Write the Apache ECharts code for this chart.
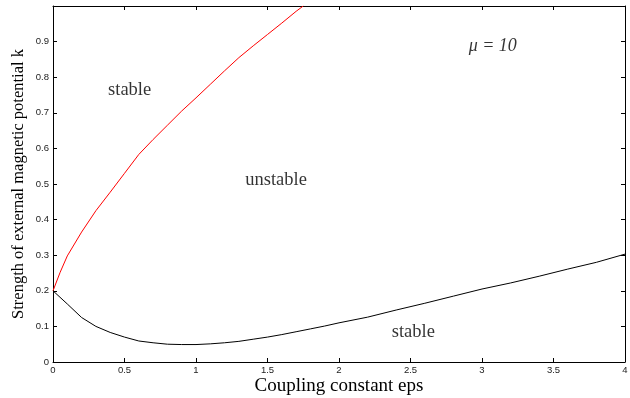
<!DOCTYPE html>
<html><head><meta charset="utf-8">
<script src="https://cdn.jsdelivr.net/npm/echarts@6/dist/echarts.min.js"></script>
<style>html,body{margin:0;padding:0;background:#fff}#c{width:630px;height:398px}</style>
</head><body><div id="c"></div>
<script>
var redEps = [0,0.05,0.1,0.2,0.3,0.4,0.5,0.6,0.7,0.8,0.9,1.0,1.1,1.2,1.3,1.4,1.5,1.6,1.7,1.75];
var redK   = [0.2,0.252,0.298,0.365,0.425,0.477,0.53,0.583,0.625,0.665,0.705,0.742,0.78,0.818,0.855,0.888,0.92,0.952,0.985,1.0];
var blackEps = [0,0.1,0.2,0.3,0.4,0.5,0.6,0.7,0.8,0.9,1.0,1.1,1.2,1.3,1.4,1.5,1.6,1.7,1.8,1.9,2.0,2.2,2.4,2.6,2.8,3.0,3.2,3.4,3.6,3.8,4.0];
var blackK   = [0.2,0.163,0.125,0.1,0.083,0.07,0.059,0.054,0.05,0.049,0.049,0.051,0.054,0.058,0.064,0.07,0.077,0.085,0.093,0.101,0.11,0.126,0.146,0.165,0.185,0.205,0.222,0.241,0.261,0.28,0.303];
var annotations = [
  {text:'stable', x:0.536, y:0.765},
  {text:'unstable', x:1.56, y:0.512},
  {text:'stable', x:2.52, y:0.085}
];
var muLabel = 'μ = 10';

function pairs(a,b){return a.map(function(v,i){return [v,b[i]];});}
var chart = echarts.init(document.getElementById('c'));
var tickLab = {fontFamily:'Liberation Sans, Arial, sans-serif', fontSize:9.5, color:'#222'};
var serif = 'Liberation Serif, Times New Roman, serif';
var line = {show:true,onZero:false,lineStyle:{color:'#000',width:1}};
var tick = {inside:true,length:4,lineStyle:{color:'#000'}};
chart.setOption({
  animation:false,
  grid:{left:53,right:5,top:6,bottom:36,containLabel:false,outerBoundsMode:'none'},
  xAxis:[{
    type:'value', min:0, max:4, interval:0.5, position:'bottom',
    axisLine:line, axisTick:tick,
    axisLabel:Object.assign({margin:3},tickLab),
    splitLine:{show:false},
    name:'Coupling constant eps', nameLocation:'middle', nameGap:15, nameMoveOverlap:false,
    nameTextStyle:{fontFamily:serif,fontSize:19,color:'#000'}
  },{
    type:'value', min:0, max:4, interval:0.5, position:'top',
    axisLine:line, axisTick:tick,
    axisLabel:{show:false}, splitLine:{show:false}
  }],
  yAxis:[{
    type:'value', min:0, max:1, interval:0.1, position:'left',
    axisLine:line, axisTick:tick,
    axisLabel:Object.assign({margin:4,showMaxLabel:false,formatter:function(v){return +v.toFixed(1)+'';}},tickLab),
    splitLine:{show:false},
    name:'Strength of external magnetic potential k', nameLocation:'middle', nameGap:26, nameMoveOverlap:false,
    nameTextStyle:{fontFamily:serif,fontSize:16.5,color:'#000'}
  },{
    type:'value', min:0, max:1, interval:0.1, position:'right',
    axisLine:line, axisTick:tick,
    axisLabel:{show:false}, splitLine:{show:false}
  }],
  series:[
    {type:'line', data:pairs(redEps,redK), showSymbol:false, lineStyle:{color:'#ff0000',width:1}, z:3},
    {type:'line', data:pairs(blackEps,blackK), showSymbol:false, lineStyle:{color:'#000',width:1}, z:3},
    {type:'scatter', symbolSize:0, data:annotations.map(function(a){return {value:[a.x,a.y],label:{show:true,formatter:a.text}};}),
     label:{show:true,position:'inside',fontFamily:serif,fontSize:18.5,color:'#000'}},
    {type:'scatter', symbolSize:0, data:[{value:[3.075,0.886]}],
     label:{show:true,position:'inside',formatter:muLabel,fontFamily:serif,fontStyle:'italic',fontSize:18,color:'#000'}}
  ]
});
</script></body></html>
